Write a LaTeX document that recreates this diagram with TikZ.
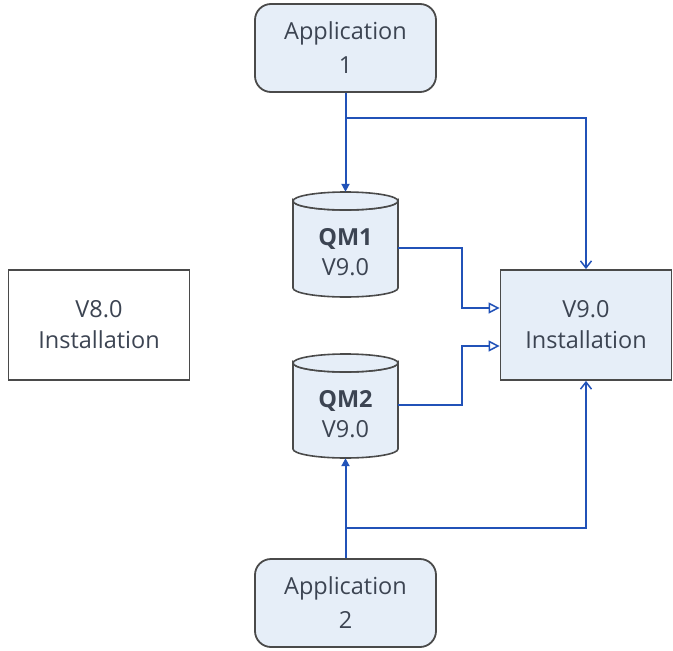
\documentclass[tikz,border=0pt]{standalone}
\usepackage{fontspec}
\setmainfont{Open Sans}
\usetikzlibrary{arrows.meta}
\definecolor{boxfill}{HTML}{E6EEF8}
\definecolor{boxline}{HTML}{4A4A4A}
\definecolor{conn}{HTML}{2152B8}
\definecolor{txt}{HTML}{3C4452}
\tikzset{
  appbox/.style={draw=boxline, fill=boxfill, line width=1.8pt, rounded corners=16pt,
    minimum width=181pt, minimum height=88pt, inner sep=0pt, align=center,
    text=txt, font=\fontsize{23.5}{34}\selectfont},
  instbox/.style={draw=boxline, line width=1.8pt, minimum height=110pt,
    inner sep=0pt, align=center, text=txt, font=\fontsize{23.5}{31}\selectfont},
  cyl/.style={draw=boxline, fill=boxfill, line width=1.6pt},
  qmtext/.style={align=center, text=txt, font=\fontsize{23.5}{30}\selectfont},
  link/.style={draw=conn, line width=2pt},
  filltip/.style={-{Triangle[length=8pt,width=8pt]}},
  opentip/.style={-{Triangle[open,length=11pt,width=11pt,line width=1.5pt]}},
  barbtip/.style={-{Straight Barb[length=7pt,width=11pt,line width=1.5pt]}}
}
\begin{document}
\begin{tikzpicture}[x=1pt,y=-1pt]
\useasboundingbox (0,0) rectangle (673,651);
% application boxes
\node[appbox] (app1) at (345.5,48) {Application\\1};
\node[appbox] (app2) at (345.5,603) {Application\\2};
% installations
\node[instbox, minimum width=181pt] (v8) at (99,325) {V8.0\\Installation};
\node[instbox, minimum width=171pt, fill=boxfill] (v9) at (586,325) {V9.0\\Installation};
% cylinders
\foreach \n/\yt/\yb/\lab in {qm1/201/288/QM1, qm2/363/449/QM2}{
  \path[cyl] (293,\yt) -- (293,\yb) arc[start angle=180,end angle=360,x radius=52.5pt,y radius=9pt]
     -- (398,\yt) arc[start angle=0,end angle=-180,x radius=52.5pt,y radius=9pt] -- cycle;
  \path[cyl] (345.5,\yt) ellipse[x radius=52.5pt,y radius=9pt];
  \node[minimum width=105pt, minimum height={\yb-\yt+18}, inner sep=0pt] (\n) at (345.5,{(\yt+\yb)/2}) {};
  \node[qmtext] at (345.5,{(\yt+\yb)/2+8}) {\textbf{\lab}\\V9.0};
}
% coordinates for branches
\coordinate (b1) at (345.5,118);
\coordinate (b2) at (345.5,528);
% connectors
\draw[link, filltip] (app1.south) -- (qm1.north);
\draw[link, barbtip] (b1) -| (v9.north);
\draw[link, filltip] (app2.north) -- (qm2.south);
\draw[link, barbtip] (b2) -| (v9.south);
\draw[link, opentip] (qm1.east |- 0,248) -- (462,248) |- (v9.west |- 0,308);
\draw[link, opentip] (qm2.east |- 0,405) -- (462,405) |- (v9.west |- 0,346);
\end{tikzpicture}
\end{document}
